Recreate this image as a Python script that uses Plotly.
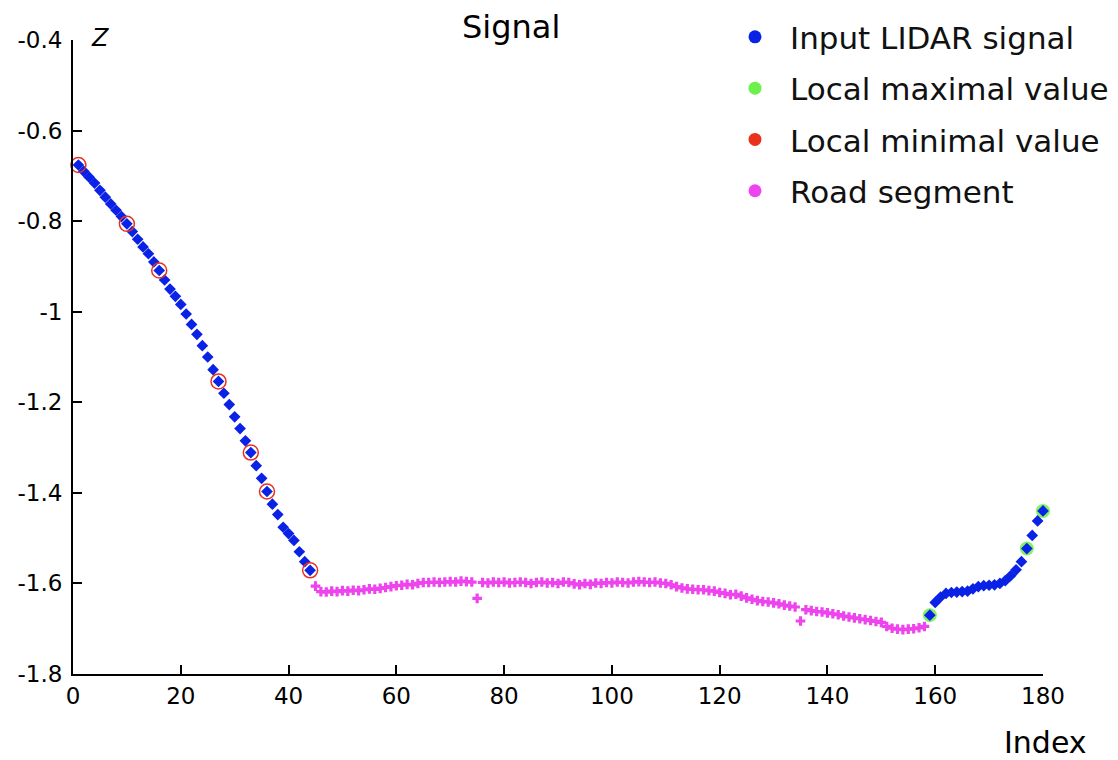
import plotly.graph_objects as go

# ---------------- data ----------------
left_idx = list(range(1, 45))
left_z = [-0.676, -0.690, -0.703, -0.716, -0.732, -0.747, -0.762, -0.776, -0.790,
          -0.806, -0.823, -0.840, -0.857, -0.872, -0.890, -0.909, -0.930, -0.950,
          -0.966, -0.984, -1.005, -1.028, -1.050, -1.075, -1.100, -1.128, -1.154,
          -1.180, -1.205, -1.232, -1.258, -1.285, -1.311, -1.340, -1.368, -1.397,
          -1.425, -1.448, -1.476, -1.490, -1.505, -1.530, -1.552, -1.571]

road_idx = list(range(45, 159))
road_z = [-1.606,
          -1.618, -1.619, -1.617, -1.618, -1.616, -1.617, -1.615,
          -1.616, -1.614, -1.612, -1.613, -1.611, -1.609, -1.607,
          -1.605, -1.604, -1.602, -1.603, -1.600,
          -1.598, -1.598, -1.597, -1.598, -1.597, -1.596, -1.597, -1.595, -1.596, -1.597,
          -1.633,
          -1.598, -1.599, -1.597, -1.598, -1.597, -1.599, -1.598, -1.597, -1.598, -1.600,
          -1.598, -1.597, -1.599, -1.598, -1.600, -1.597, -1.598, -1.601, -1.603, -1.600,
          -1.602, -1.599, -1.600, -1.598, -1.599, -1.597, -1.598, -1.599, -1.597, -1.596,
          -1.597, -1.598, -1.597, -1.599, -1.600,
          -1.603, -1.607, -1.610, -1.612, -1.613, -1.614, -1.614, -1.616, -1.617, -1.620,
          -1.622, -1.625, -1.624, -1.628,
          -1.632, -1.635, -1.638, -1.640, -1.641, -1.643, -1.645, -1.648, -1.650, -1.652,
          -1.683,
          -1.658, -1.660, -1.662, -1.663, -1.665, -1.667, -1.669,
          -1.672, -1.674, -1.676, -1.678, -1.680, -1.682, -1.684, -1.686,
          -1.695, -1.699, -1.701, -1.702, -1.701, -1.700, -1.698, -1.695]

right_idx = list(range(159, 181))
right_z = [-1.670, -1.642, -1.630, -1.622, -1.620, -1.619, -1.618, -1.617, -1.612,
           -1.607, -1.605, -1.604, -1.603, -1.600, -1.594, -1.583, -1.570, -1.552,
           -1.523, -1.494, -1.462, -1.440]

min_idx = [1, 10, 16, 27, 33, 36, 44]
max_idx = [159, 177, 180]

x_ticks = [0, 20, 40, 60, 80, 100, 120, 140, 160, 180]
y_ticks = [-1.8, -1.6, -1.4, -1.2, -1.0, -0.8, -0.6, -0.4]
y_tick_text = ["-1.8", "-1.6", "-1.4", "-1.2", "-1", "-0.8", "-0.6", "-0.4"]

legend_names = ["Input LIDAR signal", "Local maximal value", "Local minimal value", "Road segment"]

BLUE = "#0a22e6"
GREEN = "#6ef04a"
RED = "#e8321e"
MAGENTA = "#ee44ee"
FONT = "DejaVu Sans, Liberation Sans, Arial, sans-serif"

all_idx = left_idx + road_idx + right_idx
all_z = left_z + road_z + right_z
lookup = dict(zip(all_idx, all_z))
min_z = [lookup[i] for i in min_idx]
max_z = [lookup[i] for i in max_idx]

fig = go.Figure()

# green glow under local maxima
fig.add_trace(go.Scatter(x=max_idx, y=max_z, mode="markers", showlegend=False,
                         cliponaxis=False,
                         marker=dict(symbol="circle", size=14, color=GREEN, opacity=0.85)))
# road segment
fig.add_trace(go.Scatter(x=road_idx, y=road_z, mode="markers", showlegend=False,
                         cliponaxis=False,
                         marker=dict(symbol="cross", size=8, color=MAGENTA, line=dict(width=0))))
# blue signal
fig.add_trace(go.Scatter(x=left_idx + right_idx, y=left_z + right_z, mode="markers",
                         showlegend=False, cliponaxis=False,
                         marker=dict(symbol="diamond", size=9, color=BLUE, line=dict(width=0))))
# red circles around local minima
fig.add_trace(go.Scatter(x=min_idx, y=min_z, mode="markers", showlegend=False,
                         cliponaxis=False,
                         marker=dict(symbol="circle-open", size=15, color=RED,
                                     line=dict(width=1.5, color=RED))))

# legend entries
for i, (name, col) in enumerate(zip(legend_names, [BLUE, GREEN, RED, MAGENTA])):
    fig.add_trace(go.Scatter(x=[None], y=[None], mode="markers", name=name,
                             legendgroup=f"g{i}",
                             marker=dict(symbol="circle", size=13, color=col)))

fig.update_layout(
    width=1118, height=760,
    margin=dict(l=73, r=75, t=40, b=86, autoexpand=False),
    paper_bgcolor="white", plot_bgcolor="white",
    font=dict(family=FONT, color="black"),
    showlegend=True,
    legend=dict(x=0.667, y=1.047, xanchor="left", yanchor="top",
                font=dict(size=31, color="#111", family=FONT), bgcolor="rgba(0,0,0,0)",
                traceorder="grouped", tracegroupgap=8, itemwidth=60),
    xaxis=dict(range=[0, 180], tickvals=x_ticks, showgrid=False, zeroline=False,
               showline=True, linecolor="black", linewidth=2,
               ticks="inside", ticklen=9, tickwidth=2, tickcolor="black",
               tickfont=dict(size=23, family=FONT)),
    yaxis=dict(range=[-1.8, -0.4], tickvals=y_ticks, ticktext=y_tick_text,
               showgrid=False, zeroline=False,
               showline=True, linecolor="black", linewidth=2,
               ticks="inside", ticklen=9, tickwidth=2, tickcolor="black",
               tickfont=dict(size=23, family=FONT), ticklabelstandoff=4),
    annotations=[
        dict(text="Signal", x=0.452, y=1.0, xref="paper", yref="paper",
             xanchor="center", yanchor="middle", yshift=13, showarrow=False,
             font=dict(size=32, family=FONT)),
        dict(text="<i>Z</i>", x=0.0, y=1.0, xref="paper", yref="paper",
             xanchor="left", yanchor="middle", xshift=16, yshift=2, showarrow=False,
             font=dict(size=24, family=FONT)),
        dict(text="Index", x=1.0, y=0.0, xref="paper", yref="paper",
             xanchor="center", yanchor="middle", yshift=-68, xshift=2, showarrow=False,
             font=dict(size=30, family=FONT)),
    ],
)

fig.write_html("out.html")
